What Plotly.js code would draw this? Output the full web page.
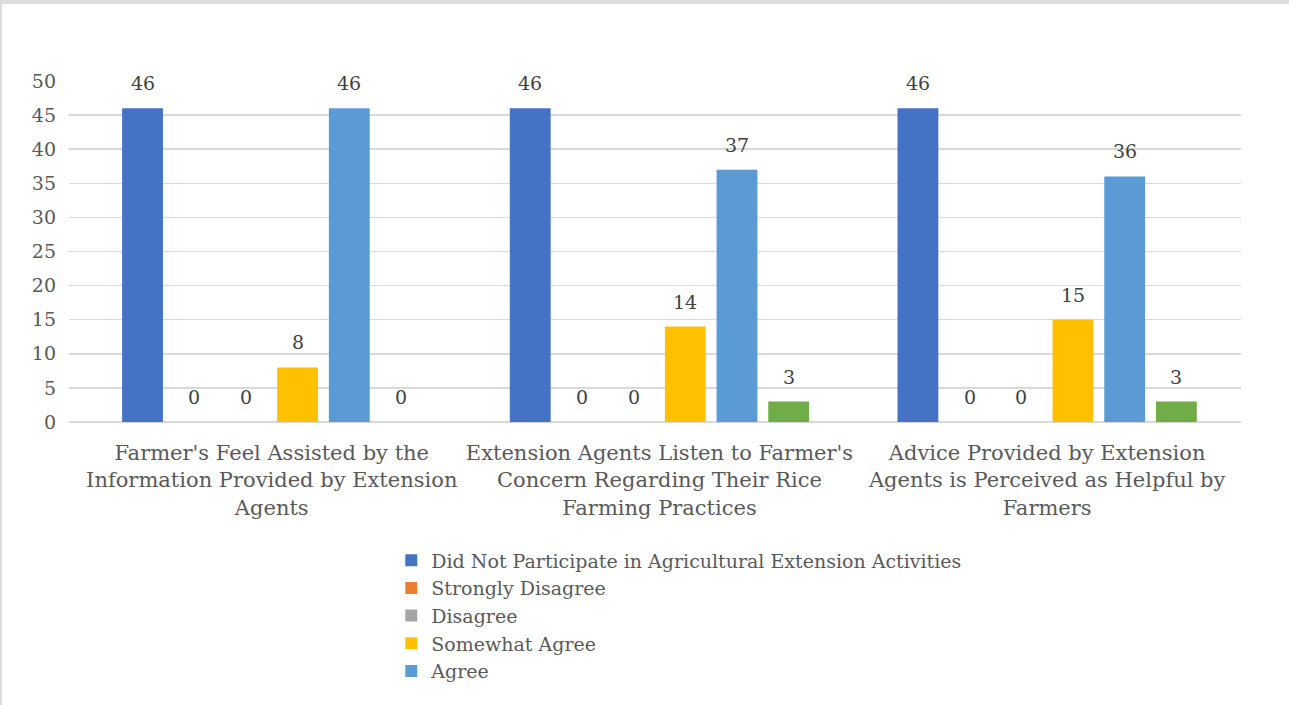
<!DOCTYPE html>
<html>
<head>
<meta charset="utf-8">
<script src="https://cdn.plot.ly/plotly-3.0.1.min.js"></script>
<style>
html,body{margin:0;padding:0;background:#dcdcdc;width:1289px;height:705px;overflow:hidden;}
#chart{position:absolute;left:2px;top:4px;width:1287px;height:701px;background:#fff;}
</style>
</head>
<body>
<div id="chart"></div>
<script>
const categories = [
  "Farmer's Feel Assisted by the<br>Information Provided by Extension<br>Agents",
  "Extension Agents Listen to Farmer's<br>Concern Regarding Their Rice<br>Farming Practices",
  "Advice Provided by Extension<br>Agents is Perceived as Helpful by<br>Farmers"
];
const seriesNames = [
  "Did Not Participate in Agricultural Extension Activities",
  "Strongly Disagree",
  "Disagree",
  "Somewhat Agree",
  "Agree",
  "Strongly Agree"
];
const didNotParticipate = [46, 46, 46];
const stronglyDisagree = [0, 0, 0];
const disagree = [0, 0, 0];
const somewhatAgree = [8, 14, 15];
const agree = [46, 37, 36];
const stronglyAgree = [0, 3, 3];
const yTicks = [0, 5, 10, 15, 20, 25, 30, 35, 40, 45, 50];

const seriesValues = [didNotParticipate, stronglyDisagree, disagree, somewhatAgree, agree, stronglyAgree];
const colors = ["#4472C4", "#ED7D31", "#A5A5A5", "#FFC000", "#5B9BD5", "#70AD47"];
const showInLegend = [true, true, true, true, true, false];

const FONT = "DejaVu Serif";
const TXT = "#595959";

const traces = seriesValues.map((vals, i) => ({
  type: 'bar',
  name: seriesNames[i],
  x: categories,
  y: vals,
  marker: {color: colors[i]},
  showlegend: showInLegend[i],
  hoverinfo: 'y+name'
}));

const plotW = 1287 - 67 - 48;
const xRange = [-0.523, 2.5];
const unitPx = plotW / (xRange[1] - xRange[0]);
const bargap = 0.2;
const slotPx = unitPx * (1 - bargap) / seriesValues.length;

const annotations = [];
seriesValues.forEach((vals, i) => {
  vals.forEach((v, j) => {
    annotations.push({
      x: categories[j], y: v, xref: 'x', yref: 'y',
      text: String(v), showarrow: false,
      xshift: (i - (seriesValues.length - 1) / 2) * slotPx,
      yshift: 25,
      font: {family: FONT, size: 19, color: "#404040"}
    });
  });
});

const layout = {
  width: 1287, height: 701,
  margin: {l: 67, r: 48, t: 77, b: 283, autoexpand: false},
  paper_bgcolor: '#fff', plot_bgcolor: '#fff',
  barmode: 'group',
  bargap: bargap,
  bargroupgap: 0.21,
  font: {family: FONT, size: 19, color: TXT},
  xaxis: {
    type: 'category',
    range: xRange,
    showgrid: false,
    zeroline: false,
    showline: false,
    ticks: '',
    ticklabelstandoff: 16,
    tickfont: {family: FONT, size: 21, color: TXT},
    fixedrange: true
  },
  yaxis: {
    range: [0, 50],
    tickvals: yTicks,
    ticktext: yTicks.map(String),
    showgrid: true,
    gridcolor: '#d9d9d9',
    gridwidth: 1.5,
    zeroline: true,
    zerolinecolor: '#d9d9d9',
    zerolinewidth: 1.5,
    showline: false,
    ticks: '',
    ticklabelstandoff: 12,
    tickfont: {family: FONT, size: 19, color: TXT},
    fixedrange: true
  },
  legend: {
    orientation: 'v',
    x: 0.275, xanchor: 'left',
    y: -0.35, yanchor: 'top',
    font: {family: FONT, size: 19, color: TXT},
    bgcolor: 'rgba(0,0,0,0)',
    tracegroupgap: 0,
    traceorder: 'normal'
  },
  annotations: annotations,
  showlegend: true
};

Plotly.newPlot('chart', traces, layout, {displayModeBar: false, staticPlot: true});
</script>
</body>
</html>
